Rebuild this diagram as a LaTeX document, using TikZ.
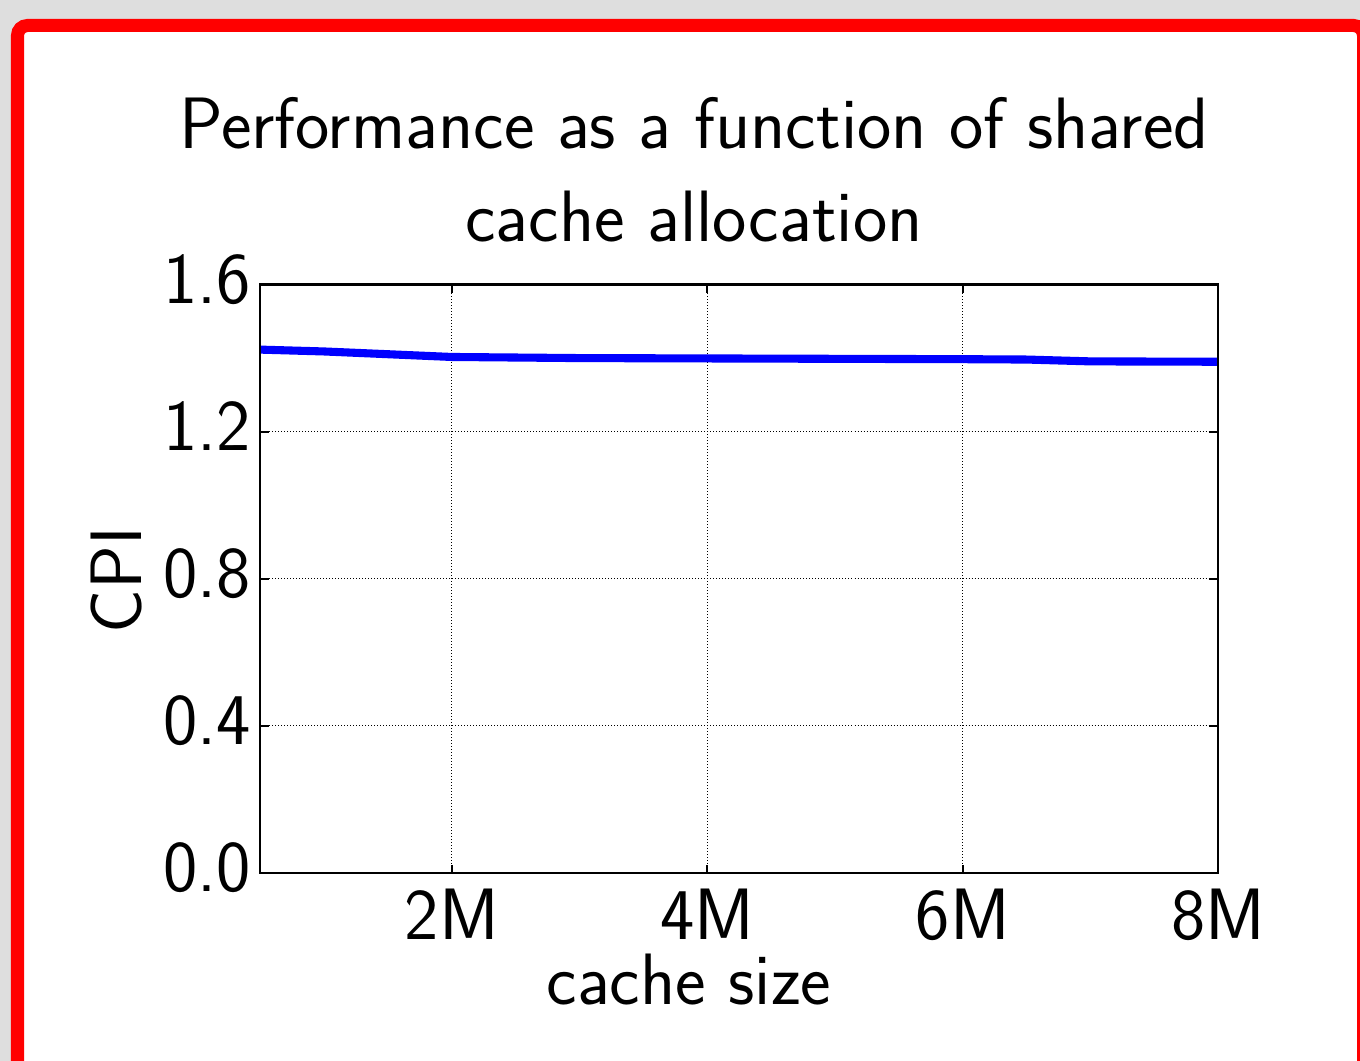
\documentclass[tikz,border=0pt]{standalone}
\usetikzlibrary{positioning}
\definecolor{bggray}{gray}{0.87}
\definecolor{framered}{rgb}{1,0,0}
\definecolor{cpiblue}{rgb}{0,0,1}
\tikzset{
  plottext/.style={font=\sffamily\fontsize{20.7}{26.5}\selectfont, inner sep=0pt},
  gridline/.style={black, dash pattern=on 0.01cm off 0.02cm, line width=0.3pt},
}

\begin{document}
\begin{tikzpicture}[x=0.01cm,y=0.01cm,line width=0.6pt]
  \useasboundingbox (0,0) rectangle (1360,1061);
  \clip (0,0) rectangle (1360,1061);
  % window and red frame
  \fill[bggray] (0,0) rectangle (1360,1061);
  \fill[white, rounded corners=0.1cm] (17.5,-40) rectangle (1363.5,1035.5);
  \draw[framered, line width=0.13cm, rounded corners=0.1cm] (17.5,-40) rectangle (1363.5,1035.5);
  % plot in data units (M, CPI)
  \begin{scope}[shift={(1.962cm,1.88cm)}, x=1.2767cm, y=3.675cm]
    \foreach \m in {2,4,6} \draw[gridline] (\m,0) -- (\m,1.6);
    \foreach \c in {0.4,0.8,1.2} \draw[gridline] (0.5,\c) -- (8,\c);
    \draw[cpiblue, line width=2.3pt, line join=round]
      plot coordinates {(0.5,1.423) (1,1.418) (2,1.403) (3,1.400) (4,1.399)
                        (5,1.398) (6,1.397) (6.5,1.396) (7,1.391) (8,1.390)};
    \draw (0.5,0) rectangle (8,1.6);
    % ticks
    \foreach \m in {2,4,6,8}{
      \draw (\m,0) -- ++(0,0.08cm);
      \draw (\m,1.6) -- ++(0,-0.08cm);
      \node[plottext, anchor=base] (xt\m) at ([yshift=-0.67cm]\m,0) {\m M};
    }
    \foreach \c/\t [count=\i] in {0/0.0,0.4/0.4,0.8/0.8,1.2/1.2,1.6/1.6}{
      \draw (0.5,\c) -- ++(0.09cm,0);
      \draw (8,\c) -- ++(-0.09cm,0);
      \node[plottext, anchor=base east] (yt\i) at ([xshift=-0.08cm,yshift=-0.19cm]0.5,\c) {\t};
    }
  \end{scope}
  % labels
  \node[plottext, anchor=south, align=center, text depth=0pt] (title) at (694,818)
    {Performance as a function of shared\\cache allocation};
  \node[plottext, anchor=base] (sizelabel) at (689,56) {cache size};
  \node[plottext, anchor=base, rotate=90] (cpilabel) at (141,481) {CPI};
\end{tikzpicture}
\end{document}
